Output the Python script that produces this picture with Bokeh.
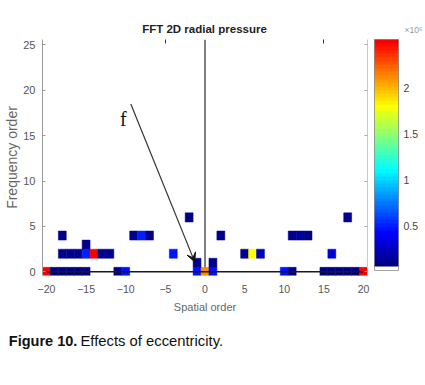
import numpy as np
from bokeh.plotting import figure
from bokeh.layouts import column
from bokeh.models import (ColumnDataSource, LinearColorMapper, ColorBar, FixedTicker,
                          LinearAxis, Arrow, VeeHead, Label, Span, Range1d)
from bokeh.core.properties import value
from bokeh.embed import file_html
from bokeh.resources import INLINE

# ---- data: non-zero cells of the 2D FFT (amplitude in units of 1e5) ----
row0_x = [-20, -19, -18, -17, -16, -15, -11, -10, -1, 0, 1, 10, 11, 15, 16, 17, 18, 19, 20]
row0_v = [2.5, 0.08, 0.09, 0.08, 0.09, 0.08, 0.12, 0.48, 0.45, 2.1, 0.45, 0.45, 0.12, 0.08, 0.09, 0.08, 0.09, 0.08, 2.5]
row1_x = [-1, 1]
row1_v = [0.12, 0.12]
row2_x = [-18, -17, -16, -15, -14, -13, -12, -4, 5, 6, 7, 16]
row2_v = [0.1, 0.1, 0.1, 0.5, 2.5, 0.1, 0.1, 0.45, 0.12, 1.8, 0.25, 0.3]
row3_x = [-15]
row3_v = [0.12]
row4_x = [-18, -9, -8, -7, 2, 11, 12, 13]
row4_v = [0.1, 0.12, 0.5, 0.12, 0.1, 0.1, 0.14, 0.1]
row6_x = [-2, 18]
row6_v = [0.1, 0.1]
rows = {0: (row0_x, row0_v), 1: (row1_x, row1_v), 2: (row2_x, row2_v),
        3: (row3_x, row3_v), 4: (row4_x, row4_v), 6: (row6_x, row6_v)}

x_ticks = [-20, -15, -10, -5, 0, 5, 10, 15, 20]
y_ticks = [0, 5, 10, 15, 20, 25]
cbar_ticks = [0.5, 1, 1.5, 2]
top_ticks = [-5, 15]
c_low, c_high = 0.02, 2.52

title_text = "FFT 2D radial pressure"
scale_text = "×10⁵"
caption_bold = "Figure 10."
caption_rest = "Effects of eccentricity."

# annotation (arrow pointing at the eccentricity harmonics)
arrow_start = (-9.36, 18.5)
arrow_end = (-1.3, 1.1)
f_pos = (-10.3, 15.6)

# ---- colormap: jet-like, lowest entry white ----
def jet(t):
    r = np.clip(1.5 - abs(4 * t - 3), 0, 1)
    g = np.clip(1.5 - abs(4 * t - 2), 0, 1)
    b = np.clip(1.5 - abs(4 * t - 1), 0, 1)
    return "#%02x%02x%02x" % (int(r * 255), int(g * 255), int(b * 255))

palette = ["#ffffff"] + [jet(t) for t in np.linspace(0, 0.88, 63)]
mapper = LinearColorMapper(palette=palette, low=c_low, high=c_high)

xs, ys, vs = [], [], []
for yy, (rx, rv) in rows.items():
    xs += rx
    ys += [yy] * len(rx)
    vs += rv
src = ColumnDataSource(dict(x=xs, y=ys, v=vs))

FONT = "Liberation Sans"
W = 425


def blank_fig(h):
    f = figure(width=W, height=h, x_range=Range1d(0, W), y_range=Range1d(0, h),
               output_backend="svg", toolbar_location=None, x_axis_type=None,
               y_axis_type=None, min_border=0, title_location=None, frame_align=False)
    f.outline_line_color = None
    f.grid.visible = False
    return f


# ---- title strip ----
TOP_H = 35
top = blank_fig(TOP_H)
top.text(x=[204], y=[TOP_H - 28], text=[title_text], text_font=value(FONT),
         text_font_size="11.5px", text_font_style="bold", text_color="#222222",
         text_align="center", text_baseline="middle")
top.text(x=[404], y=[TOP_H - 29], text=[scale_text], text_font=value(FONT),
         text_font_size="8.5px", text_color="#999999",
         text_align="left", text_baseline="middle")

# ---- main plot ----
p = figure(width=W, height=282,
           x_range=Range1d(-20.5, 20.5), y_range=Range1d(-0.4, 25.6),
           output_backend="svg", toolbar_location=None, title_location=None,
           frame_align=False,
           min_border_left=42, min_border_top=4, min_border_bottom=42, min_border_right=58)
p.outline_line_color = None
p.grid.visible = False
p.background_fill_color = "white"

xa = p.xaxis[0]
xa.ticker = FixedTicker(ticks=x_ticks)
xa.axis_line_color = None
xa.major_tick_line_color = None
xa.minor_tick_line_color = None
xa.major_label_text_font = FONT
xa.major_label_text_font_size = "10.5px"
xa.major_label_text_color = "#555555"
xa.major_label_standoff = 3
xa.axis_label = "Spatial order"
xa.axis_label_text_font = FONT
xa.axis_label_text_font_size = "11px"
xa.axis_label_text_font_style = "normal"
xa.axis_label_text_color = "#666666"
xa.axis_label_standoff = 5

ya = p.yaxis[0]
ya.ticker = FixedTicker(ticks=y_ticks)
ya.axis_line_color = "#9a9a9a"
ya.major_tick_line_color = "#9a9a9a"
ya.major_tick_in = 3
ya.major_tick_out = 0
ya.minor_tick_line_color = None
ya.major_label_text_font = FONT
ya.major_label_text_font_size = "11px"
ya.major_label_text_color = "#555555"
ya.major_label_standoff = 7
ya.axis_label = "Frequency order"
ya.axis_label_text_font = FONT
ya.axis_label_text_font_size = "14px"
ya.axis_label_text_font_style = "normal"
ya.axis_label_text_color = "#666666"
ya.axis_label_standoff = 0

# top ticks (no labels)
ta = LinearAxis(ticker=FixedTicker(ticks=top_ticks), axis_line_color=None,
                major_tick_in=4, major_tick_out=0, major_tick_line_color="#333333",
                minor_tick_line_color=None, major_label_text_font_size="1px",
                major_label_text_color=None, major_label_standoff=0)
p.add_layout(ta, "above")

# right box edge with inward ticks (no labels)
ra = LinearAxis(ticker=FixedTicker(ticks=y_ticks), axis_line_color="#c8c8c8",
                major_tick_in=3, major_tick_out=0, major_tick_line_color="#aaaaaa",
                minor_tick_line_color=None, major_label_text_font_size="1px",
                major_label_text_color=None, major_label_standoff=0)
p.add_layout(ra, "right")

p.add_layout(Span(location=0, dimension="height", line_color="#555555",
                  line_width=1.5, level="underlay"))

p.rect(x="x", y="y", width=1, height=1, source=src,
       fill_color={"field": "v", "transform": mapper},
       line_color={"field": "v", "transform": mapper}, line_width=0.5)

p.line(x=[x_ticks[0], x_ticks[-1]], y=[0, 0], line_color="#1a1a1a", line_width=1.5)

p.add_layout(Arrow(x_start=arrow_start[0], y_start=arrow_start[1],
                   x_end=arrow_end[0], y_end=arrow_end[1],
                   line_color="#333333", line_width=1.2,
                   end=VeeHead(size=9, fill_color="#111111", line_color="#111111")))
p.add_layout(Label(x=f_pos[0], y=f_pos[1], text="f", text_font="Liberation Serif",
                   text_font_size="20px", text_align="center", text_color="#111111"))

cb = ColorBar(color_mapper=mapper, ticker=FixedTicker(ticks=cbar_ticks),
              width=24, height=231, padding=0, margin=0, location=(7, 5),
              label_standoff=5, major_label_text_font=FONT,
              major_label_text_font_size="10.5px", major_label_text_color="#444444",
              major_tick_line_color=None, bar_line_color="#666666", bar_line_width=0.6,
              background_fill_color=None)
p.add_layout(cb, "right")

# ---- caption strip ----
CAP_H = 40
cap = blank_fig(CAP_H)
cap.text(x=[8.3], y=[16.3], text=[caption_bold], text_font=value(FONT),
         text_font_size="14.5px", text_font_style="bold", text_color="#111111",
         text_align="left", text_baseline="alphabetic")
cap.text(x=[80], y=[16.3], text=[caption_rest], text_font=value(FONT),
         text_font_size="14.8px", text_color="#111111",
         text_align="left", text_baseline="alphabetic")

layout = column(top, p, cap, spacing=0)
open("out.html", "w").write(file_html(layout, INLINE))
